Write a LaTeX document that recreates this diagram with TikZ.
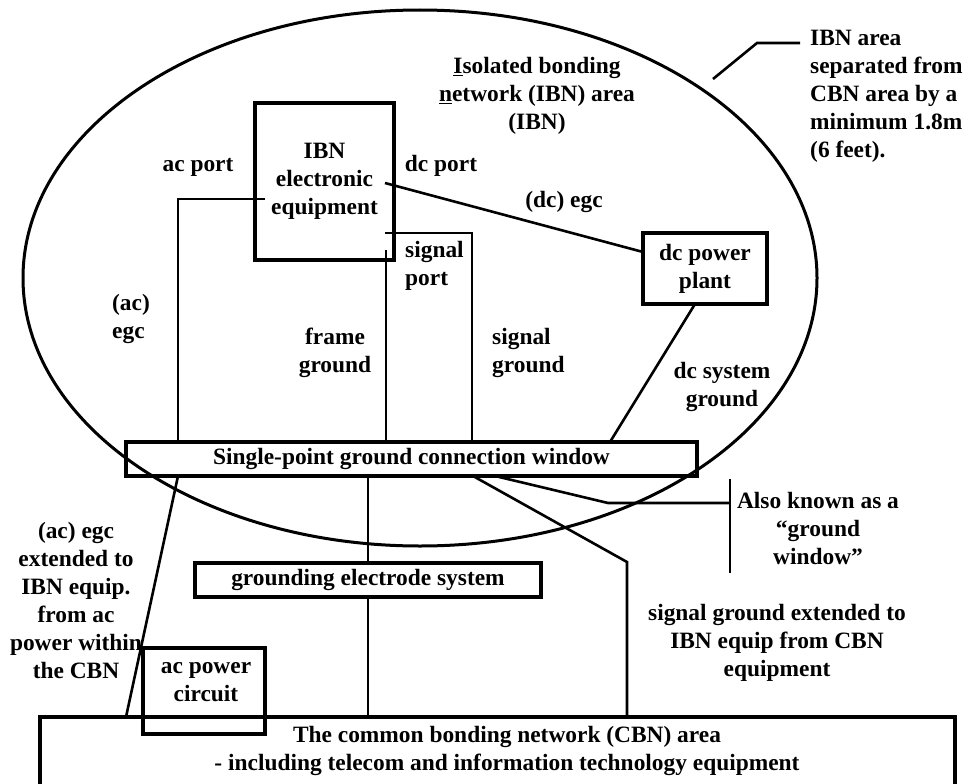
\documentclass[tikz,border=0pt]{standalone}
\usepackage{fontspec}
\setmainfont{Liberation Serif}
\begin{document}
\begin{tikzpicture}[x=1pt,y=-1pt,
  every node/.style={font=\fontsize{23.4}{28}\selectfont\bfseries, inner sep=0pt, align=center},
  box/.style 2 args={draw, line width=3.4pt, minimum width=#1pt, minimum height=#2pt},
  wire/.style={line width=2.6pt},
  lbl/.style={align=left, anchor=west}]
\useasboundingbox (0,0) rectangle (974,784);
\clip (0,0) rectangle (974,784);

% IBN area ellipse
\draw[line width=3pt] (420,278) ellipse [x radius=397pt, y radius=268pt];

% boxes
\node[box={139}{157}] (ibn) at (324.5,181.5) {\fontsize{23.4}{29}\selectfont IBN\\electronic\\equipment};
\node[box={124}{71}] (dcpp) at (705,268.5) {\fontsize{23.4}{27}\selectfont dc power\\plant};
\node[box={571}{34}] (win) at (411.5,459) {Single-point ground connection window};
\node[box={346}{34}] (ges) at (368,580) {grounding electrode system};
\node[box={915}{113}] (cbn) at (497.5,773.5) {};
\node[box={122}{86}] (acpc) at (204,691) {};

% texts
\node (acpctext) at (206,682.5) {ac power\\circuit};
\node (cbntext) at (507,751) {The common bonding network (CBN) area\\- including telecom and information technology equipment};
\node (acport) at (198,167) {ac port};
\node (dcport) at (441,166) {dc port};
\node (dcegc) at (564,202) {(dc) egc};
\node[lbl] (sigport) at (405,266) {signal\\port};
\node[lbl] (acegc) at (112,319) {(ac)\\egc};
\node (frameg) at (335,352.5) {frame\\ground};
\node[lbl] (sigg) at (492,352.5) {signal\\ground};
\node (dcsg) at (722,386.5) {dc system\\ground};
\node (isol) at (537,96) {\fontsize{23.4}{23.5}\selectfont\underline{I}solated bonding\\\underline{n}etwork (IBN) area\\(IBN)};
\node[lbl] (ibnnote) at (810,96.5) {\fontsize{23.4}{26.8}\selectfont IBN area\\separated from\\CBN area by a\\minimum 1.8m\\(6 feet).};
\node (acext) at (76,600) {(ac) egc\\extended to\\IBN equip.\\from ac\\power within\\the CBN};
\node (also) at (818,528) {Also known as a\\“ground\\window”};
\node (sigext) at (777,642.5) {\fontsize{23.4}{28.5}\selectfont signal ground extended to\\IBN equip from CBN\\equipment};

% connector points
\coordinate (acA) at (265,199);
\coordinate (acB) at (178,442);
\coordinate (frA) at (386,250);
\coordinate (spA) at (385,233);
\coordinate (spB) at (472,442);
\coordinate (dpA) at (385,183);
\coordinate (dpB) at (643,252);
\coordinate (dsA) at (695,304);
\coordinate (dsB) at (610,442);
\coordinate (aeA) at (178,476);
\coordinate (aeB) at (126,717);
\coordinate (seA) at (473,476);
\coordinate (seB) at (627,562);
\coordinate (gwA) at (495,476);
\coordinate (gwB) at (608,503);
\coordinate (gwC) at (730,503);
\coordinate (barT) at (730,479);
\coordinate (barB) at (730,573);
\coordinate (ipA) at (713,79);
\coordinate (ipB) at (757,43);
\coordinate (ipC) at (800,43);

% connectors
\draw[wire] (acA) -| (acB);
\draw[wire] (frA) -- (frA |- win.north);
\draw[wire] (spA) -| (spB);
\draw[wire] (dpA) -- (dpB);
\draw[wire] (dsA) -- (dsB);
\draw[wire] (ges.north) -- (ges.north |- win.south);
\draw[wire] (ges.south) -- (ges.south |- cbn.north);
\draw[wire] (aeA) -- (aeB);
\draw[wire] (seA) -- (seB) -- (seB |- cbn.north);
\draw[wire] (gwA) -- (gwB) -- (gwC);
\draw[wire] (barT) -- (barB);
\draw[wire] (ipA) -- (ipB) -- (ipC);
\end{tikzpicture}
\end{document}
